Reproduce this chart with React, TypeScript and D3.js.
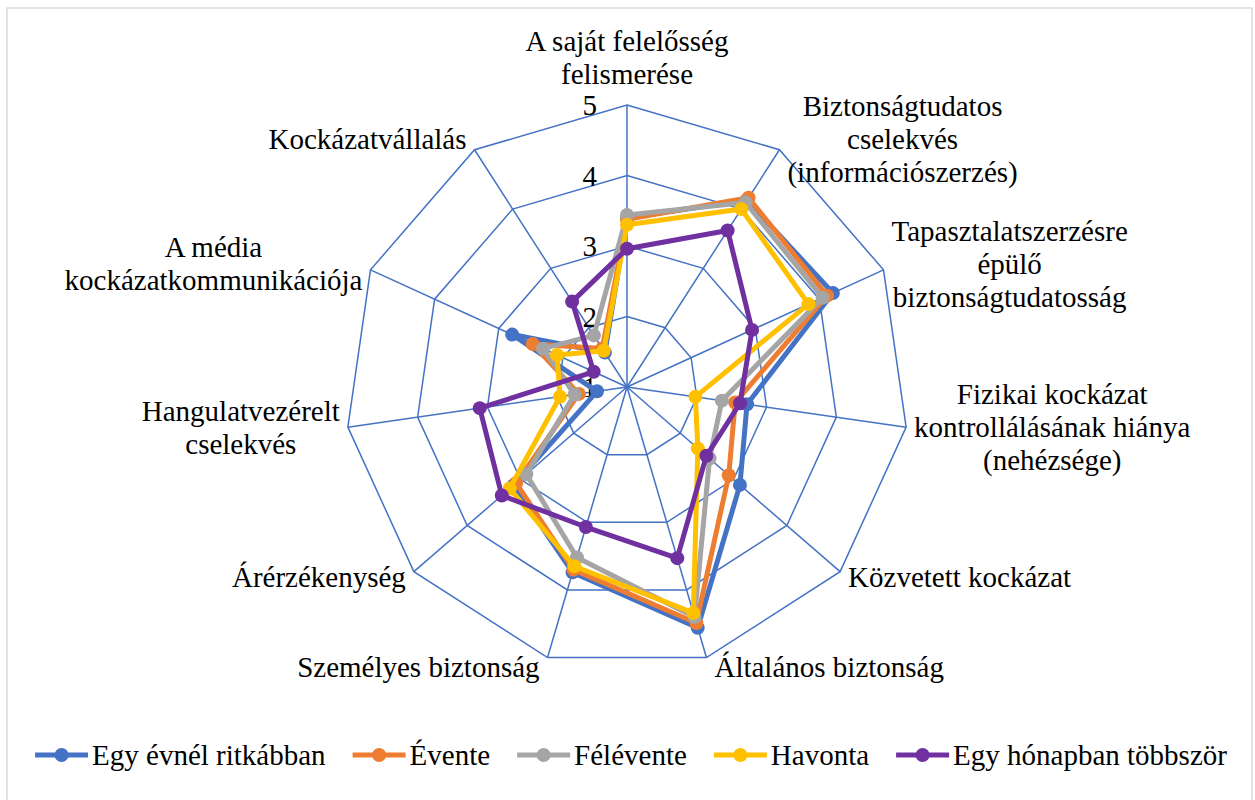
import * as d3 from "d3";

// categories (line breaks as they wrap in the picture)
const categories = [
  "A saját felelősség\nfelismerése",
  "Biztonságtudatos\ncselekvés\n(információszerzés)",
  "Tapasztalatszerzésre\népülő\nbiztonságtudatosság",
  "Fizikai kockázat\nkontrollálásának hiánya\n(nehézsége)",
  "Közvetett kockázat",
  "Általános biztonság",
  "Személyes biztonság",
  "Árérzékenység",
  "Hangulatvezérelt\ncselekvés",
  "A média\nkockázatkommunikációja",
  "Kockázatvállalás",
];

const seriesNames = ["Egy évnél ritkábban", "Évente", "Félévente", "Havonta", "Egy hónapban többször"];
const seriesColors = ["#4472C4", "#ED7D31", "#A5A5A5", "#FFC000", "#7030A0"];

const egyEvnelRitkabban = [3.4, 4.15, 4.21, 2.72, 3.12, 4.56, 3.74, 3.13, 1.43, 2.79, 1.58];
const evente = [3.38, 4.19, 4.12, 2.55, 2.91, 4.49, 3.7, 3.08, 1.69, 2.47, 1.65];
const felevente = [3.44, 4.11, 4.05, 2.36, 2.55, 4.4, 3.52, 2.89, 1.75, 2.31, 1.87];
const havonta = [3.3, 4.0, 3.83, 1.98, 2.33, 4.34, 3.65, 3.2, 1.96, 2.09, 1.61];
const egyHonapbanTobbszor = [2.96, 3.64, 2.95, 2.62, 2.49, 3.53, 3.07, 3.35, 3.11, 1.52, 2.44];

const seriesValues = [egyEvnelRitkabban, evente, felevente, havonta, egyHonapbanTobbszor];
const tickValues = [1, 2, 3, 4, 5];

const FONT = '"Liberation Serif", "Times New Roman", serif';
const FS = 29;

let ctx: CanvasRenderingContext2D | null = null;
function textWidth(s: string) {
  if (!ctx) ctx = document.createElement("canvas").getContext("2d");
  if (!ctx) return s.length * FS * 0.45;
  ctx.font = `${FS}px ${FONT}`;
  return ctx.measureText(s).width;
}

export default function App() {
  const width = 1255;
  const height = 800;
  const cx = 627;
  const cy = 387;
  const R = 282;
  const n = categories.length;

  const r = d3.scaleLinear().domain([1, 5]).range([0, R]);
  const angle = d3.scaleLinear().domain([0, n]).range([0, 2 * Math.PI]);

  const radial = d3
    .lineRadial<number>()
    .angle((_, i) => angle(i))
    .radius((v) => r(v))
    .curve(d3.curveLinearClosed);

  const pt = (i: number, v: number) => {
    const a = angle(i);
    return [cx + r(v) * Math.sin(a), cy - r(v) * Math.cos(a)];
  };

  const lh = 33;

  // legend layout
  const lineW = 53;
  const legendItems = seriesNames.map((name) => ({ name, w: lineW + 4 + textWidth(name) }));
  const legendGap = 27;
  const legendTotal = d3.sum(legendItems, (d) => d.w) + legendGap * (legendItems.length - 1);
  let lx = 631 - legendTotal / 2;
  const legendPos = legendItems.map((d) => {
    const x = lx;
    lx += d.w + legendGap;
    return x;
  });
  const legendY = 755;

  return (
    <div style={{ position: "absolute", left: 0, top: 0 }}>
      <svg width={width} height={height} style={{ display: "block", fontFamily: FONT }}>
        <rect x={0} y={0} width={width} height={height} fill="#fff" />
        <rect x={7} y={8} width={1245} height={800} fill="none" stroke="#D9D9D9" strokeWidth={1.5} />

        {/* grid */}
        <g fill="none" stroke="#4472C4" strokeWidth={1.5}>
          {tickValues.slice(1).map((t) => (
            <path key={t} transform={`translate(${cx},${cy})`} d={radial(categories.map(() => t)) ?? ""} />
          ))}
          {categories.map((_, i) => {
            const [x, y] = pt(i, 5);
            return <line key={i} x1={cx} y1={cy} x2={x} y2={y} />;
          })}
        </g>

        {/* tick labels */}
        {tickValues.map((t) => (
          <text key={t} x={cx - 30} y={cy - r(t) + 10} textAnchor="end" fontSize={FS} fill="#000">
            {t}
          </text>
        ))}

        {/* series */}
        {seriesValues.map((vals, s) => (
          <g key={s}>
            <path
              transform={`translate(${cx},${cy})`}
              d={radial(vals) ?? ""}
              fill="none"
              stroke={seriesColors[s]}
              strokeWidth={5}
              strokeLinejoin="round"
            />
            {vals.map((v, i) => {
              const [x, y] = pt(i, v);
              return <circle key={i} cx={x} cy={y} r={7} fill={seriesColors[s]} />;
            })}
          </g>
        ))}

        {/* category labels */}
        {categories.map((cat, i) => {
          const lines = cat.split("\n");
          const a = angle(i);
          const [vx, vy] = pt(i, 5);
          const blockW = d3.max(lines, (l) => textWidth(l)) ?? 0;
          const s = Math.sin(a);
          let midX: number;
          if (s > 0.05) midX = vx + 8 + blockW / 2;
          else if (s < -0.05) midX = vx - 8 - blockW / 2;
          else midX = vx;
          let firstBase: number;
          if (Math.abs(s) <= 0.05 && Math.cos(a) > 0) {
            firstBase = vy - 21 - (lines.length - 1) * lh;
          } else {
            const center = vy - 11 * Math.cos(a) - 1;
            firstBase = center - ((lines.length - 1) / 2) * lh + 9.5;
          }
          return (
            <text key={i} textAnchor="middle" fontSize={FS} fill="#000">
              {lines.map((l, k) => (
                <tspan key={k} x={midX} y={firstBase + k * lh}>
                  {l}
                </tspan>
              ))}
            </text>
          );
        })}

        {/* legend */}
        {seriesNames.map((name, s) => (
          <g key={name} transform={`translate(${legendPos[s]},${legendY})`}>
            <line x1={0} x2={lineW} y1={0} y2={0} stroke={seriesColors[s]} strokeWidth={5} />
            <circle cx={lineW / 2} cy={0} r={7} fill={seriesColors[s]} />
            <text x={lineW + 4} y={10} fontSize={FS} fill="#000">
              {name}
            </text>
          </g>
        ))}
      </svg>
    </div>
  );
}
